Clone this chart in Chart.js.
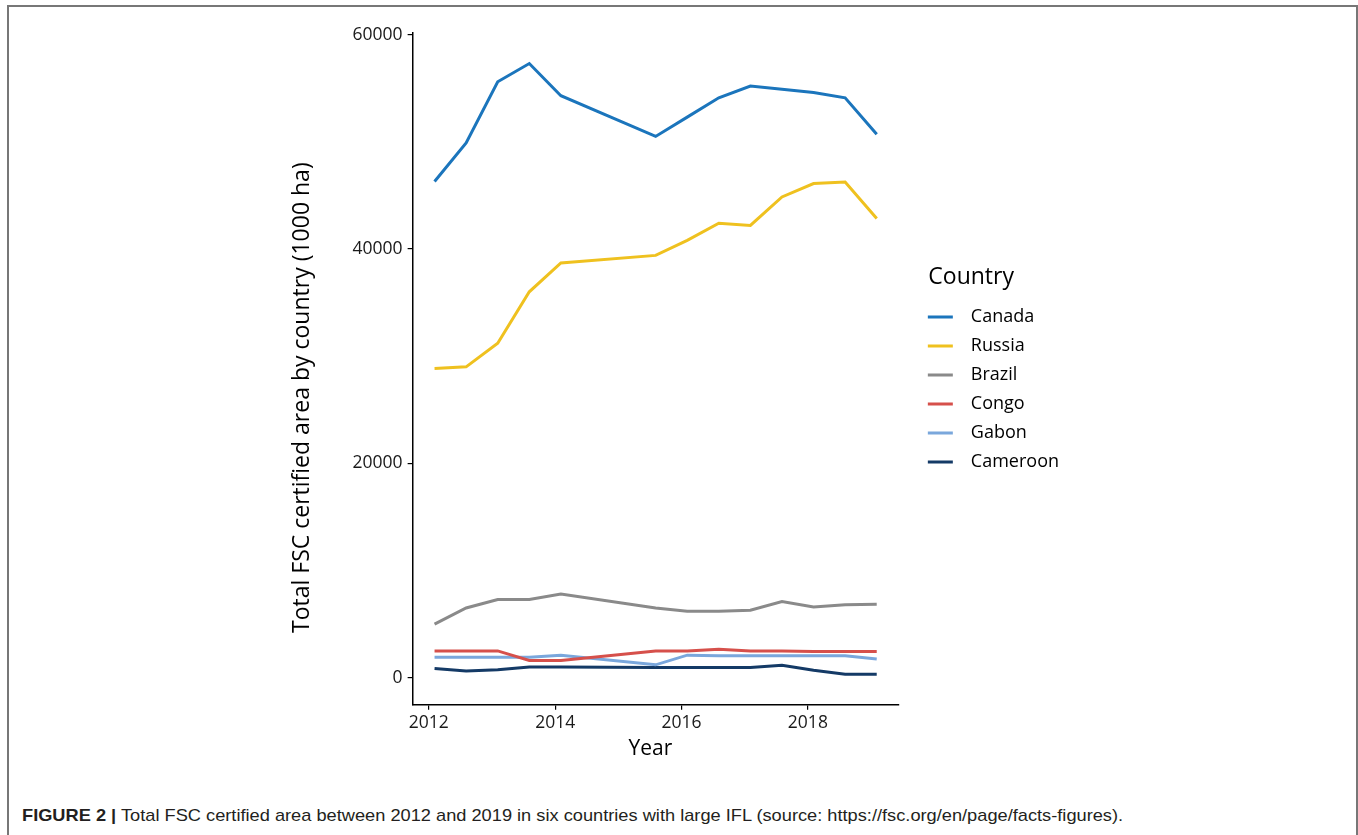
<!DOCTYPE html>
<html>
    <head>
        <title>FSC certified area</title>
        <script src="https://cdn.jsdelivr.net/npm/chart.js@4.4.1/dist/chart.umd.min.js"></script>
        <style>
            body { margin: 0; background: #fff; }
            #frame { position: absolute; left: 7px; top: 5px; width: 1347px; height: 840px; border-left: 2px solid #777; border-top: 2px solid #777; border-right: 2px solid #777; }
            #wrap { position: absolute; left: 0; top: 0; width: 1358px; height: 770px; }
            #caption { position: absolute; left: 22px; top: 806px; font-family: 'Liberation Sans', Arial, sans-serif; font-size: 17px; color: #231f20; white-space: nowrap; transform: scaleX(1.072); transform-origin: left top; }
        </style>
        <script>
            // decimal years of the half-yearly FSC snapshots
            const years = [2012.09, 2012.59, 2013.09, 2013.59, 2014.09, 2015.59, 2016.09, 2016.59, 2017.09, 2017.59, 2018.09, 2018.59, 2019.09];

            const canada   = [46300, 49900, 55600, 57300, 54300, 50500, 52300, 54100, 55200, 54900, 54600, 54100, 50700];
            const russia   = [28850, 29000, 31200, 36000, 38700, 39400, 40800, 42400, 42200, 44850, 46100, 46250, 42850];
            const brazil   = [5000, 6500, 7300, 7300, 7800, 6500, 6200, 6200, 6300, 7100, 6600, 6800, 6850];
            const congo    = [2500, 2500, 2500, 1600, 1600, 2500, 2500, 2650, 2500, 2500, 2450, 2450, 2450];
            const gabon    = [1900, 1900, 1900, 1900, 2100, 1200, 2100, 2050, 2050, 2050, 2050, 2050, 1750];
            const cameroon = [850, 620, 750, 1000, 1000, 950, 950, 950, 950, 1150, 700, 320, 320];

            const countries = ['Canada', 'Russia', 'Brazil', 'Congo', 'Gabon', 'Cameroon'];
            const series = [canada, russia, brazil, congo, gabon, cameroon];
            const colors = ['#1b75bc', '#efc11f', '#8a8a8a', '#d6504b', '#7aa7dc', '#143a66'];

            const xTicks = [2012, 2014, 2016, 2018];
            const yTicks = [0, 20000, 40000, 60000];

            function loaded()
            {
                const datasets = countries.map((name, i) => ({
                    label: name,
                    data: years.map((yr, j) => ({ x: yr, y: series[i][j] })),
                    borderColor: colors[i],
                    backgroundColor: colors[i],
                    borderWidth: 3,
                    pointRadius: 0,
                    tension: 0
                }));

                // push the legend a bit right of the plotting panel, like ggplot does
                const legendShift = {
                    id: 'legendShift',
                    afterLayout(chart) {
                        chart.legend.left += 18;
                        chart.legend.right += 18;
                    }
                };

                const ctx = document.getElementById('chart');
                const myChart = new Chart(ctx, {
                    type: 'line',
                    data: { datasets: datasets },
                    plugins: [legendShift],
                    options: {
                        responsive: true,
                        maintainAspectRatio: false,
                        animation: false,
                        layout: { padding: { left: 285, top: 33, right: 307, bottom: 4 } },
                        scales: {
                            x: {
                                type: 'linear',
                                min: 2011.743,
                                max: 2019.44,
                                afterBuildTicks: s => { s.ticks = xTicks.map(v => ({ value: v })); },
                                grid: { drawOnChartArea: false, drawTicks: true, tickLength: 5, color: '#000', lineWidth: 1.2 },
                                border: { display: true, color: '#000', width: 1.5 },
                                ticks: {
                                    color: '#1a1a1a',
                                    font: { family: 'Open Sans', size: 17.5 },
                                    padding: 3,
                                    maxRotation: 0,
                                    callback: v => String(v)
                                },
                                title: {
                                    display: true,
                                    text: 'Year\u2002',
                                    color: '#000',
                                    font: { family: 'Open Sans', size: 21 },
                                    padding: { top: 0, bottom: 4 }
                                }
                            },
                            y: {
                                type: 'linear',
                                min: -2530,
                                max: 60150,
                                afterBuildTicks: s => { s.ticks = yTicks.map(v => ({ value: v })); },
                                grid: { drawOnChartArea: false, drawTicks: true, tickLength: 5, color: '#000', lineWidth: 1.2 },
                                border: { display: true, color: '#000', width: 1.5 },
                                ticks: {
                                    color: '#1a1a1a',
                                    font: { family: 'Open Sans', size: 17.5 },
                                    padding: 5,
                                    callback: v => String(v)
                                },
                                title: {
                                    display: true,
                                    text: 'Total FSC certified area by country (1000 ha)\u2002\u2002\u2002\u2002\u2002',
                                    color: '#000',
                                    font: { family: 'Open Sans', size: 23 },
                                    padding: { top: 4, bottom: 31 }
                                }
                            }
                        },
                        plugins: {
                            tooltip: { enabled: false },
                            legend: {
                                position: 'right',
                                align: 'start',
                                title: {
                                    display: true,
                                    text: '\u2002Country',
                                    color: '#000',
                                    position: 'start',
                                    font: { family: 'Open Sans', size: 23 },
                                    padding: { top: 232.5, bottom: 4 }
                                },
                                labels: {
                                    color: '#000',
                                    font: { family: 'Open Sans', size: 18 },
                                    boxWidth: 25,
                                    boxHeight: 3,
                                    padding: 11,
                                    generateLabels: function(chart) {
                                        return chart.data.datasets.map((ds, i) => ({
                                            text: '\u2002' + ds.label,
                                            fillStyle: ds.borderColor,
                                            strokeStyle: ds.borderColor,
                                            lineWidth: 0,
                                            hidden: false,
                                            datasetIndex: i
                                        }));
                                    }
                                }
                            }
                        }
                    }
                });
            }

            window.addEventListener('load', loaded, true);
        </script>
    </head>
    <body>
        <div id="frame"></div>
        <div id="wrap"><canvas id="chart"></canvas></div>
        <div id="caption"><b>FIGURE 2 |</b> Total FSC certified area between 2012 and 2019 in six countries with large IFL (source: https://fsc.org/en/page/facts-figures).</div>
    </body>
</html>
